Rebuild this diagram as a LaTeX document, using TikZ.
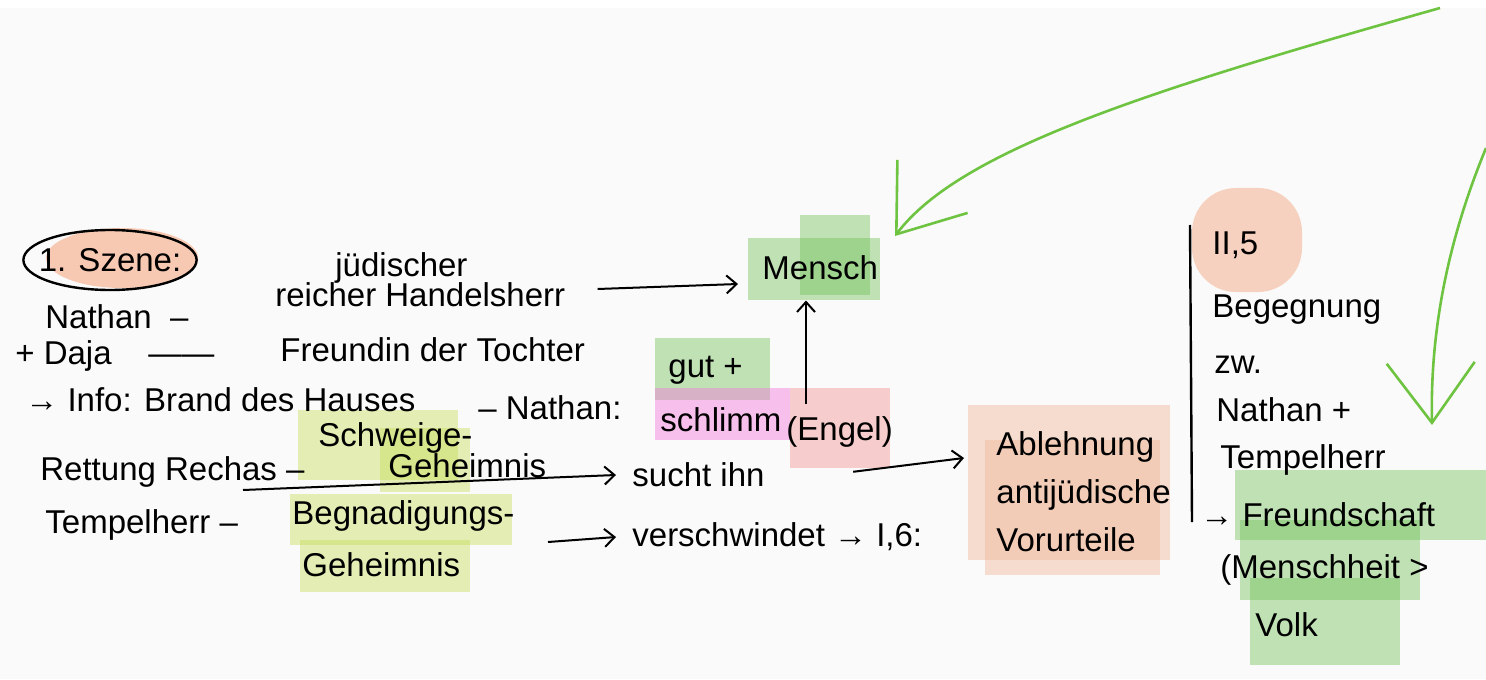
\documentclass[tikz,border=0pt]{standalone}
\usepackage{fontspec}
\setmainfont{Liberation Sans}
\usetikzlibrary{arrows.meta,shapes.geometric,positioning,fit,backgrounds}
\definecolor{peach}{RGB}{245,160,120}
\definecolor{leaf}{RGB}{120,195,95}
\definecolor{lime}{RGB}{200,222,95}
\definecolor{rose}{RGB}{245,120,220}
\definecolor{salmon}{RGB}{245,150,150}
\definecolor{apricot}{RGB}{240,185,155}
\definecolor{handgreen}{RGB}{110,195,65}
\begin{document}
\begin{tikzpicture}[
  x=0.5pt, y=-0.5pt,
  txt/.style={anchor=west, inner sep=0pt, font=\fontsize{16.5}{19}\selectfont},
  hl/.style={fill=#1, fill opacity=0.45},
  arr/.style={-{Straight Barb[length=5pt,width=9pt]}, line width=1pt},
  garr/.style={-{Straight Barb[length=30pt,width=44pt]}, draw=handgreen, line width=1.3pt}
]
\fill[gray!4] (0,0) rectangle (1486,679);
\fill[white] (0,0) rectangle (1486,8);
\useasboundingbox (0,0) rectangle (1486,679);

% highlights
\fill[peach, opacity=0.55] (122,258) ellipse (38pt and 15pt);
\fill[hl=leaf] (748,238) rectangle (880,300);
\fill[hl=leaf] (800,215) rectangle (870,295);
\fill[hl=leaf] (655,338) rectangle (770,400);
\fill[hl=rose] (655,388) rectangle (790,440);
\fill[hl=salmon] (790,388) rectangle (890,468);
\fill[hl=lime] (298,410) rectangle (458,480);
\fill[hl=lime] (380,428) rectangle (470,492);
\fill[hl=lime] (290,494) rectangle (512,545);
\fill[hl=lime] (300,540) rectangle (470,592);
\fill[hl=apricot] (968,405) rectangle (1170,560);
\fill[hl=apricot] (985,440) rectangle (1160,575);
\fill[hl=peach, rounded corners=22pt] (1192,188) rectangle (1302,292);
\fill[hl=leaf] (1235,470) rectangle (1486,540);
\fill[hl=leaf] (1240,520) rectangle (1420,600);
\fill[hl=leaf] (1250,578) rectangle (1400,665);

\node[ellipse, draw, line width=1.2pt, inner sep=-5pt, minimum width=85pt, minimum height=30pt,
      font=\fontsize{16.5}{19}\selectfont] (szene) at (110,260) {1. Szene:};
\node[txt] (juedisch) at (335,268) {jüdischer};
\node[txt] (handel)   at (275,295) {reicher Handelsherr};
\node[txt] (nathan)   at (45,317)  {Nathan \ –};
\node[txt] (daja)     at (15,356)  {+ Daja \ \ \ ——};
\node[txt] (freundin) at (280,350) {Freundin der Tochter};
\node[txt] (info)     at (25,400)  {→ Info: Brand des Hauses};
\node[txt] (nathan2)  at (478,408) {– Nathan:};
\node[txt] (gut)      at (668,370) {gut +};
\node[txt] (schlimm)  at (660,420) {schlimm};
\node[txt] (engel)    at (786,432) {(Engel)};
\node[txt] (mensch)   at (762,268) {Mensch};
\node[txt] (rettung)  at (40,472)  {Rettung Rechas –};
\node[txt] (schweige) at (318,438) {Schweige-};
\node[txt] (geheim)   at (388,466) {Geheimnis};
\node[txt] (tempel)   at (45,525)  {Tempelherr –};
\node[txt] (begnad)   at (292,516) {Begnadigungs-};
\node[txt] (geheimb)  at (302,565) {Geheimnis};
\node[txt] (sucht)    at (632,475) {sucht ihn};
\node[txt] (versch)   at (632,537) {verschwindet → I,6:};
\node[txt, align=left, font=\fontsize{16.5}{24}\selectfont] (abl) at (996,492)
  {Ablehnung\\antijüdische\\Vorurteile};

\node[txt] (twofive)  at (1212,245) {II,5};
\node[txt] (begeg)    at (1212,310) {Begegnung};
\node[txt] (zw)       at (1214,365) {zw.};
\node[txt] (nathan3)  at (1216,410) {Nathan +};
\node[txt] (tempel2)  at (1220,460) {Tempelherr};
\node[txt] (freundsch) at (1200,515) {→ Freundschaft};
\node[txt] (menschh)  at (1220,570) {(Menschheit >};
\node[txt] (volk)     at (1255,625) {Volk};

\draw[line width=1.2pt] (1190,225) -- (1192,522);

\coordinate (e1) at ([xshift=10pt,yshift=6pt]engel.north west);
\coordinate (u0) at (243,490);
\coordinate (v0) at (548,542);
\coordinate (g1) at (1440,8);
\coordinate (g1end) at (895,236);
\coordinate (g2) at (1486,148);
\coordinate (g2end) at (1432,425);

\draw[arr] ([xshift=16pt,yshift=3pt]handel.east) -- ([xshift=-12pt,yshift=-8pt]mensch.west);
\draw[arr, shorten >=10pt] (e1) -- (e1 |- mensch.south);
\draw[arr] (u0) -- ([xshift=-8pt]sucht.west);
\draw[arr] ([xshift=-20pt,yshift=-12pt]engel.south east) -- ([xshift=-16pt,yshift=17pt]abl.west);
\draw[arr] (v0) -- ([xshift=-8pt]versch.west);

\draw[garr] (g1) .. controls (1150,90) and (960,150) .. (g1end);
\draw[garr] (g2) .. controls (1448,240) and (1430,330) .. (g2end);
\end{tikzpicture}
\end{document}
